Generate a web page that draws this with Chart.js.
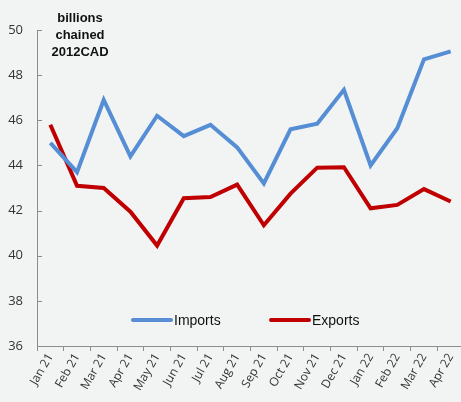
<!DOCTYPE html>
<html>
<head>
<script src="https://cdn.jsdelivr.net/npm/chart.js"></script>
<style>
  html, body { margin: 0; padding: 0; overflow: hidden; background: #f2f4f4; }
  .box { width: 464px; height: 402px; position: relative; }
</style>
</head>
<body>
<div class="box"><canvas id="tradeChart" width="464" height="402"></canvas></div>
<script>
const months = ['Jan 21', 'Feb 21', 'Mar 21', 'Apr 21', 'May 21', 'Jun 21', 'Jul 21', 'Aug 21',
                'Sep 21', 'Oct 21', 'Nov 21', 'Dec 21', 'Jan 22', 'Feb 22', 'Mar 22', 'Apr 22'];
const imports = [45.0, 43.7, 46.9, 44.4, 46.2, 45.3, 45.8, 44.8, 43.2, 45.6, 45.85, 47.35, 44.0, 45.65, 48.7, 49.05];
const exports_ = [45.8, 43.1, 43.0, 41.95, 40.45, 42.55, 42.6, 43.15, 41.35, 42.75, 43.9, 43.92, 42.1, 42.25, 42.95, 42.4];
const yTicks = [36, 38, 40, 42, 44, 46, 48, 50];

const axisGrey = '#8c8c8c';

// title, legend and inner y tick marks drawn on top
const extras = {
  id: 'extras',
  afterDraw(chart) {
    const ctx = chart.ctx;
    const y = chart.scales.y;
    const area = chart.chartArea;
    ctx.save();
    ctx.strokeStyle = axisGrey;
    ctx.lineWidth = 1;
    yTicks.forEach(v => {
      const py = Math.round(y.getPixelForValue(v)) + 0.5;
      ctx.beginPath();
      ctx.moveTo(area.left, py);
      ctx.lineTo(area.left + 5, py);
      ctx.stroke();
    });

    ctx.fillStyle = '#111';
    ctx.font = 'bold 13px "Liberation Sans", Arial, sans-serif';
    ctx.textAlign = 'center';
    ctx.textBaseline = 'middle';
    ['billions', 'chained', '2012CAD'].forEach((t, i) => ctx.fillText(t, 80, 18 + i * 17));

    const ly = 320;
    const items = [[133, 'Imports', '#558ed5'], [271, 'Exports', '#c00000']];
    ctx.font = '14px "Liberation Sans", Arial, sans-serif';
    ctx.textAlign = 'left';
    items.forEach(([x, label, col]) => {
      ctx.strokeStyle = col;
      ctx.lineWidth = 4;
      ctx.lineCap = 'round';
      ctx.beginPath();
      ctx.moveTo(x, ly);
      ctx.lineTo(x + 38, ly);
      ctx.stroke();
      ctx.fillStyle = '#111';
      ctx.fillText(label, x + 41, ly + 1);
    });
    ctx.restore();
  }
};

new Chart(document.getElementById('tradeChart'), {
  type: 'line',
  data: {
    labels: months,
    datasets: [{
      label: 'Imports',
      data: imports,
      borderColor: '#558ed5',
      borderWidth: 4,
      pointRadius: 0,
      tension: 0
    }, {
      label: 'Exports',
      data: exports_,
      borderColor: '#c00000',
      borderWidth: 4,
      pointRadius: 0,
      tension: 0
    }]
  },
  options: {
    responsive: false,
    animation: false,
    devicePixelRatio: 1,
    layout: { padding: { top: 30, right: 0, left: 0, bottom: 0 } },
    plugins: { legend: { display: false }, tooltip: { enabled: false } },
    scales: {
      x: {
        offset: true,
        grid: { display: true, drawOnChartArea: false, offset: true, tickLength: 5, color: axisGrey },
        border: { color: axisGrey, width: 1 },
        ticks: {
          color: '#333',
          font: { family: '"Open Sans", sans-serif', size: 12 },
          minRotation: 60, maxRotation: 60, padding: 0, autoSkip: false
        },
        afterFit(scale) { scale.height = 56; }
      },
      y: {
        min: 36, max: 50,
        grid: { display: false },
        border: { color: axisGrey, width: 1 },
        ticks: {
          stepSize: 2,
          color: '#333',
          font: { family: '"Open Sans", sans-serif', size: 13 },
          padding: 6
        },
        afterFit(scale) { scale.width = 37; }
      }
    }
  },
  plugins: [extras]
});
</script>
</body>
</html>
